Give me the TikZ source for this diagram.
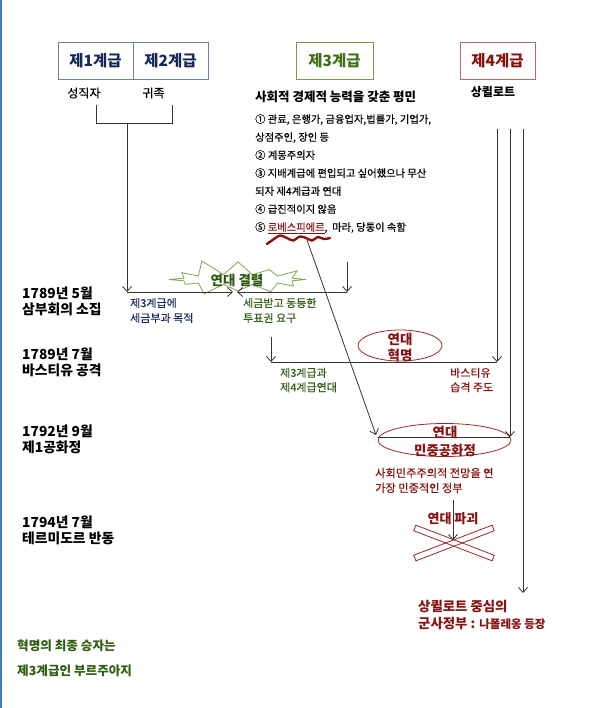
\documentclass[tikz,border=0pt]{standalone}
\usepackage{fontspec}
\setmainfont{Noto Sans CJK KR}
\newfontfamily\medfont{Noto Sans CJK KR}[FakeBold=0.35]
\usetikzlibrary{arrows.meta,shapes.geometric,shapes.symbols}
\definecolor{navy}{HTML}{17295C}
\definecolor{navyb}{HTML}{6F7F99}
\definecolor{grn}{HTML}{3F6F14}
\definecolor{grnb}{HTML}{7A9A4A}
\definecolor{grnl}{HTML}{2E5C10}
\definecolor{starc}{HTML}{7FA656}
\definecolor{rd}{HTML}{8A1111}
\definecolor{rdb}{HTML}{B06A6A}
\definecolor{rde}{HTML}{9A2A2A}
\definecolor{lc}{HTML}{333333}
\definecolor{bl}{HTML}{3E7CC4}
\begin{document}
\begin{tikzpicture}[x=1pt,y=-1pt,
  lab/.style={inner sep=0pt, align=left, anchor=west},
  ctr/.style={inner sep=0pt, align=center},
  ln/.style={line width=0.8pt, draw=lc},
  arr/.style={ln, -{Straight Barb[length=5pt,width=9pt]}},
  tl/.style={lab, font=\bfseries\fontsize{13.8}{16}\selectfont},
  classbox/.style={draw, line width=0.8pt, minimum height=37pt, inner sep=0pt, font=\bfseries\fontsize{15.5}{18}\selectfont}]
\fill[white] (0,0) rectangle (591,708);
\useasboundingbox (0,0) rectangle (591,708);
\draw[bl, line width=1.5pt] (0.8,0) -- (0.8,708);

% class boxes
\node[classbox, draw=navyb, text=navy, minimum width=75pt] (c1) at (95.5,60.5) {제1계급};
\node[classbox, draw=navyb, text=navy, minimum width=75pt] (c2) at (170.5,60.5) {제2계급};
\node[classbox, draw=grnb, text=grn, minimum width=77pt] (c3) at (334.5,60.5) {제3계급};
\node[classbox, draw=rdb, text=rd, minimum width=75pt] (c4) at (497.5,60.5) {제4계급};

\node[ctr, font=\medfont\fontsize{12}{14}\selectfont] (s1) at (84,93) {성직자};
\node[ctr, font=\medfont\fontsize{12}{14}\selectfont] (s2) at (153.5,93) {귀족};
\node[ctr, font=\bfseries\fontsize{12}{14}\selectfont] (s4) at (493,92) {상퀼로트};

\node[lab, font=\bfseries\fontsize{12.5}{15}\selectfont] (pm) at (255,97) {사회적 경제적 능력을 갖춘 평민};
\node[lab, font=\medfont\fontsize{10.3}{18}\selectfont] (list) at (255,174) {① 관료, 은행가, 금융업자,법률가, 기업가,\\상점주인, 장인 등\\② 계몽주의자\\③ 지배계급에 편입되고 싶어했으나 무산\\되자 제4계급과 연대\\④ 급진적이지 않음\\⑤ \textcolor{rd}{\underline{로베스피에르}},\ \ 마라, 당통이 속함};

% timeline labels
\node[tl] (t1) at (22,301) {1789년 5월\\삼부회의 소집};
\node[tl] (t2) at (22,362.5) {1789년 7월\\바스티유 공격};
\node[tl] (t3) at (22,439.5) {1792년 9월\\제1공화정};
\node[tl] (t4) at (22,530) {1794년 7월\\테르미도르 반동};
\node[lab, text=grnl, font=\bfseries\fontsize{12.6}{25}\selectfont] (win) at (17,658.5) {혁명의 최종 승자는\\제3계급인 부르주아지};

% bracket and first junction
\coordinate (bA) at (96,105);
\coordinate (bB) at (96,123);
\coordinate (bC) at (172,123);
\coordinate (bD) at (172,105);
\coordinate (bM) at (127,123);
\coordinate (bE) at (127,292);
\coordinate (mL) at (233,292);
\coordinate (mR) at (237,292);
\coordinate (rE) at (347,292);
\coordinate (rS) at (347,262);
\node[starburst, draw=starc, fill=white, line width=0.8pt, minimum width=146pt, minimum height=44pt, starburst points=12, starburst point height=17pt, random starburst=11, inner sep=0pt] (star) at (238,279.5) {};
\node[ctr, text=grnl, font=\bfseries\fontsize{13.5}{16}\selectfont] (gap) at (237,280) {연대 결렬};
\draw[ln] (bA) -- (bB) -- (bC) -- (bD);
\draw[arr] (bM) -- (bE);
\draw[arr] (bE) -- (mL);
\draw[arr] (rE) -- (mR);
\draw[arr] (rS) -- (rE);
\node[lab, text=navy, font=\medfont\fontsize{11}{15}\selectfont] (n1) at (130,310.5) {제3계급에\\세금부과 목적};
\node[lab, text=grnl, font=\medfont\fontsize{11}{15}\selectfont] (n2) at (243,310.5) {세금받고 동등한\\투표권 요구};

% Robespierre squiggle and arrow
\draw[rd, line width=2.4pt, line cap=round] plot[smooth] coordinates {(267,244) (274,239) (280,235.5) (287,238) (293,240.5) (300,236.5) (306,238) (312,240.5) (318,237) (324,239) (330,238)};
\coordinate (rb) at (307,240);
\coordinate (rbE) at (376,435);

% three verticals from sans-culottes
\coordinate (v1S) at (497,129);
\coordinate (v2S) at (510,129);
\coordinate (v3S) at (523,129);

% July 1789
\node[ellipse, draw=rde, fill=white, line width=0.8pt, minimum width=84pt, minimum height=31pt, inner sep=0pt] (e1) at (400,345.5) {};
\node[ctr, text=rd, font=\bfseries\fontsize{13.5}{16}\selectfont] (e1a) at (400,339) {연대};
\node[ctr, text=rd, font=\bfseries\fontsize{13.5}{16}\selectfont] (e1b) at (400,355) {혁명};
\coordinate (hS) at (271,337);
\coordinate (hL) at (271,362);
\coordinate (hR) at (497,362);
\draw[arr] (hS) -- (hL);
\draw[ln] (hL) -- (hR);
\draw[arr] (v1S) -- (hR);
\node[lab, text=grnl, font=\medfont\fontsize{11}{14.5}\selectfont] (n3) at (280,380) {제3계급과\\제4계급연대};
\node[lab, text=rd, font=\medfont\fontsize{11}{14.5}\selectfont] (n4) at (450,380) {바스티유\\습격 주도};

% Sept 1792
\node[ellipse, draw=rde, fill=white, line width=0.8pt, minimum width=133pt, minimum height=33pt, inner sep=0pt] (e2) at (444.5,440) {};
\coordinate (e2L) at (378,437);
\coordinate (e2R) at (510,437);
\draw[ln] (e2L) -- (e2R);
\node[ctr, text=rd, font=\bfseries\fontsize{13.4}{16}\selectfont] (e2a) at (445,432) {연대};
\node[ctr, text=rd, font=\bfseries\fontsize{13.4}{16}\selectfont] (e2b) at (445,450) {민중공화정};
\draw[arr] (v2S) -- (e2R);
\draw[arr] (rb) -- (rbE);
\node[lab, text=rd, font=\medfont\fontsize{11.2}{15}\selectfont] (n5) at (375,480.5) {사회민주주의적 전망을 연\\가장 민중적인 정부};

% July 1794
\coordinate (xS) at (453,500);
\coordinate (xE) at (453,540);
\node[ctr, text=rd, font=\bfseries\fontsize{13}{16}\selectfont] (brk) at (453,519) {연대 파괴};
\node[draw=rde, line width=0.8pt, minimum width=84pt, minimum height=6pt, inner sep=0pt, rotate=21] (xa) at (454,543) {};
\node[draw=rde, line width=0.8pt, minimum width=84pt, minimum height=6pt, inner sep=0pt, rotate=-21] (xb) at (454,543) {};
\draw[arr] (xS) -- (xE);

% Napoleon
\coordinate (v3E) at (523,593);
\draw[arr] (v3S) -- (v3E);
\node[lab, text=rd, font=\bfseries\fontsize{13.4}{17}\selectfont] (nap) at (418,614.5) {상퀼로트 중심의\\군사정부 : {\fontsize{11.5}{17}\selectfont 나폴레옹 등장}};
\end{tikzpicture}
\end{document}
